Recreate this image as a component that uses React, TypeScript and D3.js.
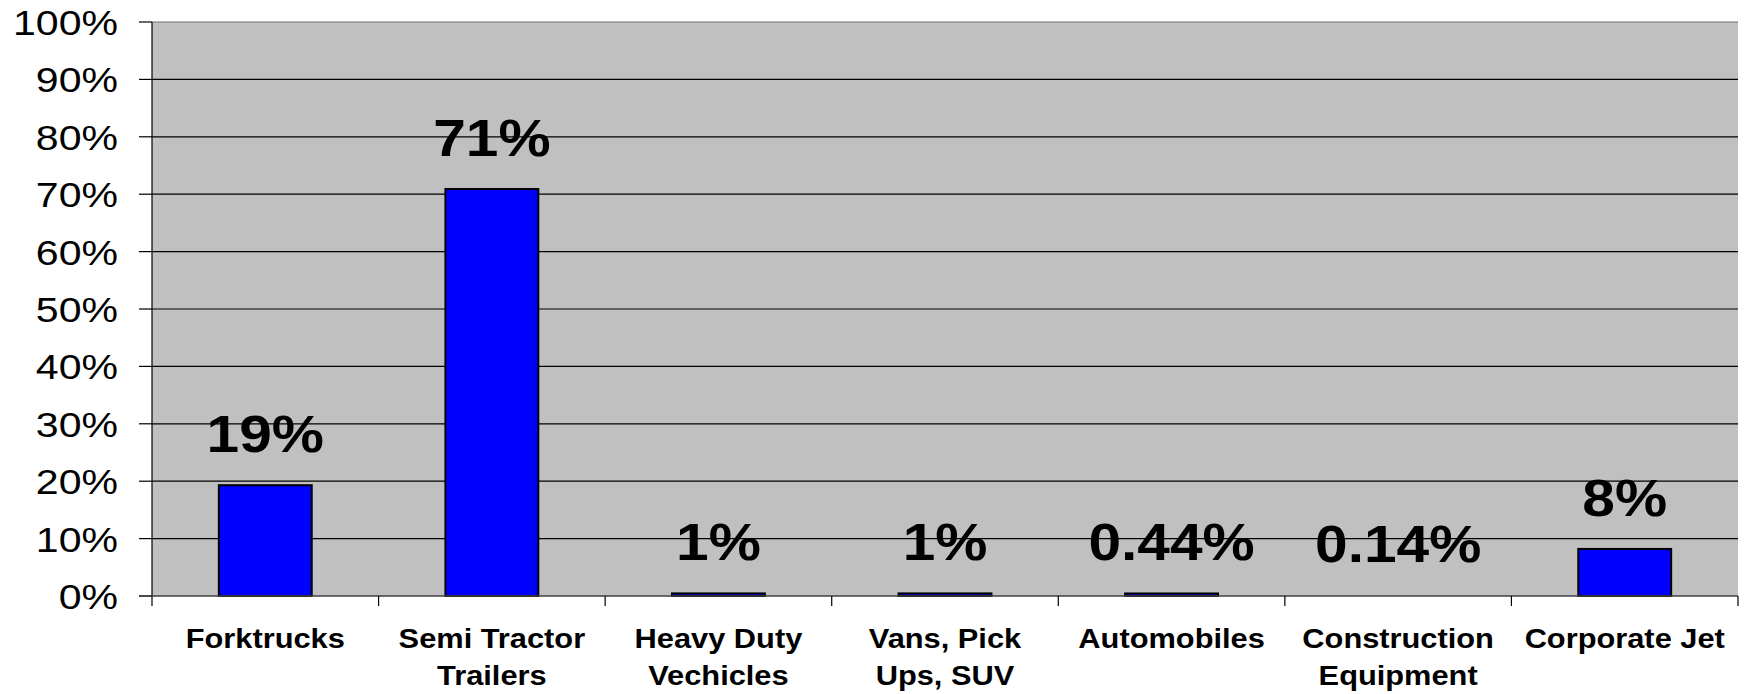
import React from 'react'
import * as d3 from 'd3'

const categories = [
  'Forktrucks',
  'Semi Tractor|Trailers',
  'Heavy Duty|Vechicles',
  'Vans, Pick|Ups, SUV',
  'Automobiles',
  'Construction|Equipment',
  'Corporate Jet',
]
const values = [19.3, 70.9, 0.45, 0.45, 0.44, 0.14, 8.2]
const valueLabels = ['19%', '71%', '1%', '1%', '0.44%', '0.14%', '8%']
const yTicks = [0, 10, 20, 30, 40, 50, 60, 70, 80, 90, 100]

const W = 1747
const H = 694
const margin = { left: 152, right: 9, top: 22, bottom: 98 }

export default function App() {
  const x = d3.scaleBand<number>()
    .domain(d3.range(categories.length))
    .range([margin.left, W - margin.right])
    .padding(0)

  const y = d3.scaleLinear()
    .domain([0, 100])
    .range([H - margin.bottom, margin.top])

  const barW = x.bandwidth() * 0.41
  const y0 = y(0)
  const font = '"Liberation Sans", Arial, sans-serif'

  return (
    <svg width={W} height={H} style={{ position: 'absolute', left: 0, top: 0, background: 'white' }}>
      {/* plot area */}
      <rect x={margin.left} y={margin.top} width={W - margin.right - margin.left} height={y0 - margin.top} fill="#C0C0C0" />

      {/* gridlines + y ticks */}
      {yTicks.map(t => (
        <g key={t}>
          {t > 0 && (
            <line x1={margin.left} x2={W - margin.right} y1={y(t)} y2={y(t)}
              stroke={t === 100 ? '#707070' : '#000'} strokeWidth={1.2} />
          )}
          <line x1={margin.left - 13} x2={margin.left} y1={y(t)} y2={y(t)} stroke="#000" strokeWidth={1.2} />
          <text transform={`translate(${margin.left - 34}, ${y(t)}) scale(1.14, 1)`} dy="0.36em"
            textAnchor="end" fontFamily={font} fontSize={36} fill="#000">
            {t}%
          </text>
        </g>
      ))}

      {/* bars */}
      {values.map((v, i) => {
        const cx = x(i)! + x.bandwidth() / 2
        return (
          <rect key={i} x={cx - barW / 2} y={y(v)} width={barW} height={Math.max(0, y0 - y(v))}
            fill={v < 0.2 ? 'none' : '#0000FF'} stroke="#000" strokeWidth={v < 0.2 ? 0 : 2} />
        )
      })}

      {/* axes */}
      <line x1={margin.left} x2={margin.left} y1={margin.top} y2={y0} stroke="#000" strokeWidth={1.2} />
      <line x1={margin.left - 13} x2={W - margin.right} y1={y0} y2={y0} stroke="#404040" strokeWidth={1.5} />
      {d3.range(categories.length + 1).map(i => {
        const xx = margin.left + i * x.step()
        return <line key={i} x1={xx} x2={xx} y1={y0} y2={y0 + 10} stroke="#000" strokeWidth={1.2} />
      })}

      {/* value labels */}
      {values.map((v, i) => {
        const cx = x(i)! + x.bandwidth() / 2
        return (
          <text key={i} transform={`translate(${cx}, ${y(v) - 33}) scale(1.15, 1)`} textAnchor="middle"
            fontFamily={font} fontWeight="bold" fontSize={51} fill="#000">
            {valueLabels[i]}
          </text>
        )
      })}

      {/* category labels */}
      {categories.map((c, i) => {
        const cx = x(i)! + x.bandwidth() / 2
        return (
          <text key={i} transform={`translate(${cx}, 648) scale(1.1, 1)`} textAnchor="middle"
            fontFamily={font} fontWeight="bold" fontSize={28} fill="#000">
            {c.split('|').map((line, j) => (
              <tspan key={j} x={0} y={j * 37}>{line}</tspan>
            ))}
          </text>
        )
      })}
    </svg>
  )
}
